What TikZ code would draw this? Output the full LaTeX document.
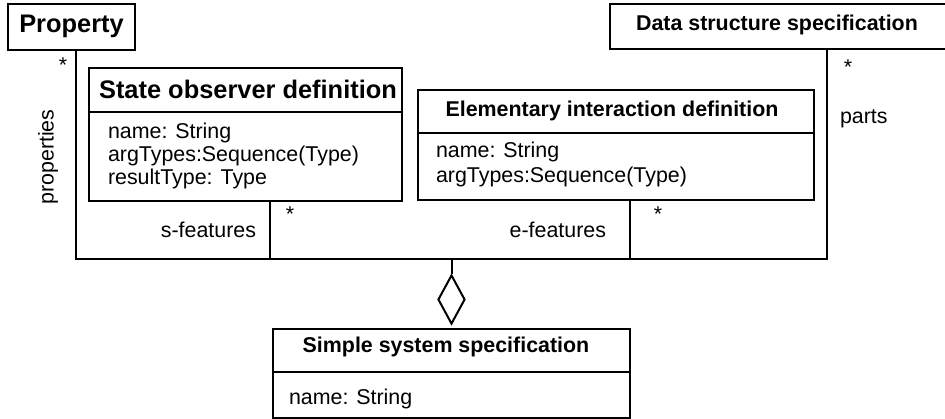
\documentclass[tikz,border=0pt]{standalone}
\usepackage{fontspec}
\setmainfont{Liberation Sans}
\usetikzlibrary{shapes.geometric}
\begin{document}
\begin{tikzpicture}[x=1pt,y=-1pt, line width=2pt,
  box/.style={draw, rectangle, inner sep=0pt, anchor=north west},
  lbl/.style={font=\fontsize{21.4}{24}\selectfont, inner sep=0pt},
  ttl/.style={font=\fontsize{21.4}{24}\selectfont\bfseries, inner sep=0pt},
  bigttl/.style={font=\fontsize{25.4}{28}\selectfont\bfseries, inner sep=0pt},
  star/.style={font=\fontsize{21.4}{24}\selectfont, inner sep=0pt}]
\useasboundingbox (0,0) rectangle (945,419);
\clip (0,0) rectangle (945,419);

% boxes
\node[box, minimum width=127pt, minimum height=46pt] (prop) at (7,3) {};
\node[bigttl] (propT) at (71.5,26) {Property};

\node[box, minimum width=351pt, minimum height=45pt] (data) at (609,3) {};
\node[ttl] (dataT) at (777,25) {Data structure specification};

\node[box, minimum width=313pt, minimum height=133pt] (so) at (88,67) {};
\node[bigttl] (soT) at (248,89) {State observer definition};
\draw (so.west |- 0,112) -- (so.east |- 0,112);
\node[lbl, anchor=west] (soA1) at (107,133) {name: String};
\node[lbl, anchor=west] (soA2) at (107,156) {argTypes:Sequence(Type)};
\node[lbl, anchor=west] (soA3) at (107,179) {resultType: Type};

\node[box, minimum width=396pt, minimum height=110pt] (ei) at (417,89) {};
\node[ttl] (eiT) at (612,111) {Elementary interaction definition};
\draw (ei.west |- 0,133) -- (ei.east |- 0,133);
\node[lbl, anchor=west] (eiA1) at (435,152) {name: String};
\node[lbl, anchor=west] (eiA2) at (435,177) {argTypes:Sequence(Type)};

\node[box, minimum width=357pt, minimum height=89pt] (ss) at (272,328) {};
\node[ttl] (ssT) at (446,347) {Simple system specification};
\draw (ss.west |- 0,372) -- (ss.east |- 0,372);
\node[lbl, anchor=west] (ssA1) at (288,399) {name: String};

% connectors
\coordinate (cL) at (76,259);
\coordinate (cR) at (827,259);
\coordinate (cS) at (270,259);
\coordinate (cE) at (630,259);
\coordinate (cD) at (451.5,259);
\draw (prop.south -| cL) -- (cL) -- (cR) -- (data.south -| cR);
\draw (so.south -| cS) -- (cS);
\draw (ei.south -| cE) -- (cE);
\node[diamond, draw, inner sep=0pt, minimum width=27pt, minimum height=49pt] (dia) at (451.5,299.5) {};
\draw (cD) -- (dia.north);

% labels
\node[lbl, rotate=90] (lprop) at (48,157) {properties};
\node[star] (st1) at (63,65) {*};
\node[lbl, anchor=east] (lsf) at (257,230) {s-features};
\node[star] (st2) at (290,214) {*};
\node[lbl, anchor=east] (lef) at (607,230) {e-features};
\node[star] (st3) at (658,214) {*};
\node[star] (st4) at (848,67) {*};
\node[lbl, anchor=west] (lparts) at (839,119) {parts};
\end{tikzpicture}
\end{document}
